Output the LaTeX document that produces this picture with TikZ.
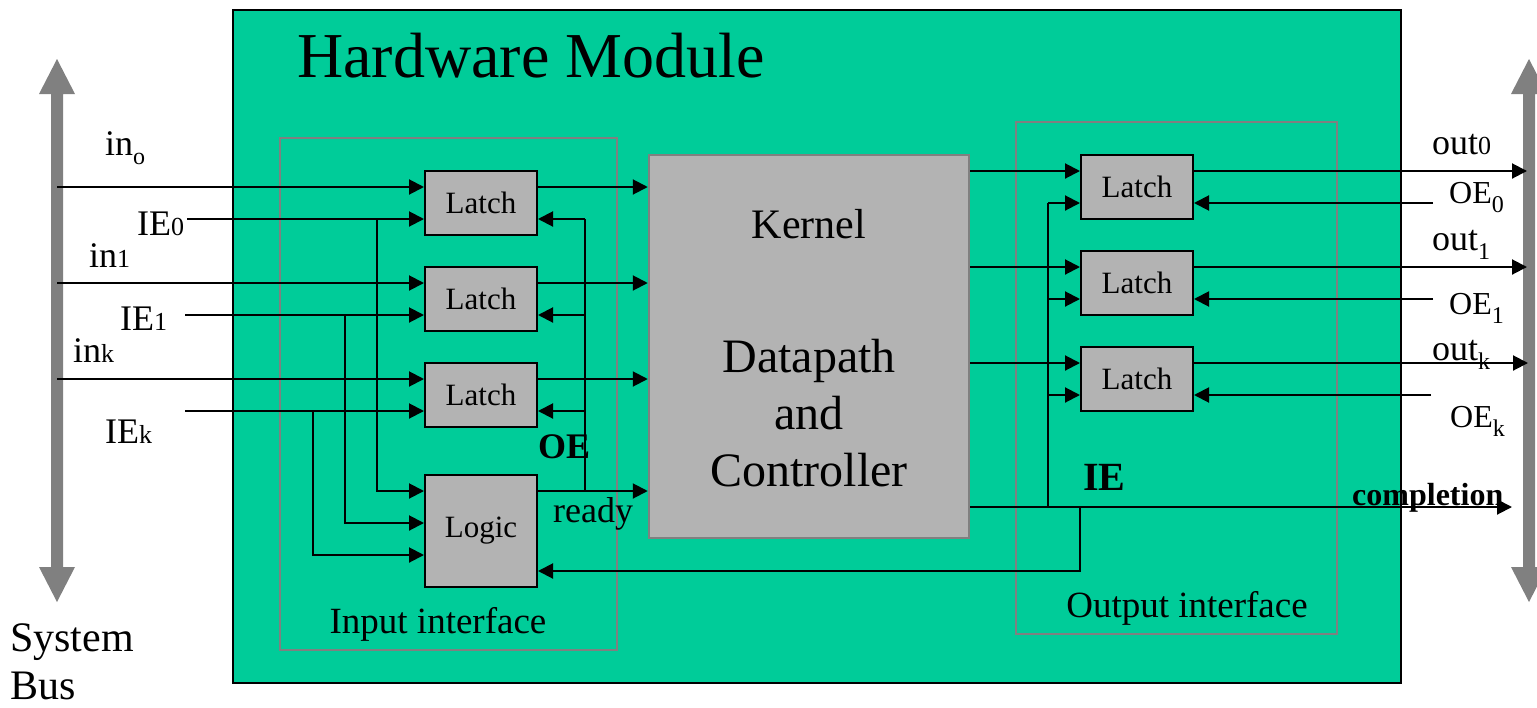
\documentclass[tikz,border=0pt]{standalone}
\usepackage{fontspec}
\setmainfont{Liberation Serif}
\usetikzlibrary{arrows.meta}

\definecolor{modgreen}{RGB}{0,204,153}
\definecolor{boxgray}{RGB}{179,179,179}
\definecolor{framegray}{RGB}{128,128,128}

\newcommand\setfs[1]{\fontsize{#1}{#1}\selectfont}
\newcommand\lowsub[1]{\raisebox{-9pt}{\setfs{24}#1}}
\newcommand\smalldig[1]{{\setfs{26}#1}}

\begin{document}
\begin{tikzpicture}[x=1pt,y=-1pt,
  wire/.style={line width=2pt},
  sig/.style={line width=2pt,-{Triangle[length=15pt,width=15pt]}},
  latchbox/.style={draw,fill=boxgray,line width=2pt,minimum width=112pt,
                   minimum height=64pt,inner sep=0pt,font=\setfs{31}},
  logicbox/.style={latchbox,minimum height=112pt},
  kernelbox/.style={draw=framegray,fill=boxgray,line width=2.5pt,
                    minimum width=320pt,minimum height=383pt,inner sep=0pt},
  frame/.style={draw=framegray,line width=2pt},
  lbl/.style={inner sep=0pt,anchor=base west,font=\setfs{36}},
  ctext/.style={inner sep=0pt,anchor=base,font=\setfs{48}},
  bus/.style={fill=framegray}]

\useasboundingbox (0,0) rectangle (1537,707);

% system bus arrows
\fill[bus] (51,94) -- (39,94) -- (57,59) -- (75,94) -- (63,94) -- (63,567)
  -- (75,567) -- (57,602) -- (39,567) -- (51,567) -- cycle;
\fill[bus] (1523,94) -- (1511,94) -- (1529,59) -- (1547,94) -- (1535,94) -- (1535,567)
  -- (1547,567) -- (1529,602) -- (1511,567) -- (1523,567) -- cycle;
\node[lbl,font=\setfs{42}] at (10,651) {System};
\node[lbl,font=\setfs{42}] at (10,699) {Bus};

% hardware module
\draw[fill=modgreen,line width=2pt] (233,10) rectangle (1401,683);
\node[lbl,font=\setfs{64}] at (297,77) {Hardware Module};

% interface frames
\draw[frame] (280,138) rectangle (617,650);
\draw[frame] (1016,122) rectangle (1337,634);
\node[ctext,font=\setfs{37}] at (438,633) {Input interface};
\node[ctext,font=\setfs{37}] at (1187,617) {Output interface};

% kernel
\node[kernelbox] (kn) at (809,346.5) {};
\node[ctext,font=\setfs{42}] at (809,238) {Kernel};
\node[ctext] at (809,372) {Datapath};
\node[ctext] at (809,429) {and};
\node[ctext] at (809,486) {Controller};

% input latches and logic
\node[latchbox] (il1) at (481,203) {Latch};
\node[latchbox] (il2) at (481,299) {Latch};
\node[latchbox] (il3) at (481,395) {Latch};
\node[logicbox] (lg) at (481,531) {Logic};

% output latches
\node[latchbox] (ol1) at (1137,187) {Latch};
\node[latchbox] (ol2) at (1137,283) {Latch};
\node[latchbox] (ol3) at (1137,379) {Latch};

% bus side ends of input signals
\coordinate (bin0) at (57,187);
\coordinate (bie0) at (187,219);
\coordinate (bin1) at (57,283);
\coordinate (bie1) at (185,315);
\coordinate (bink) at (57,379);
\coordinate (biek) at (185,411);

\draw[sig] (bin0) -- (il1.west |- bin0);
\draw[sig] (bie0) -- (il1.west |- bie0);
\draw[sig] (bin1) -- (il2.west |- bin1);
\draw[sig] (bie1) -- (il2.west |- bie1);
\draw[sig] (bink) -- (il3.west |- bink);
\draw[sig] (biek) -- (il3.west |- biek);

% input enables into logic
\coordinate (j0) at (377,219);
\coordinate (j1) at (345,315);
\coordinate (jk) at (313,411);
\draw[sig] (j0) |- ([yshift=40pt]lg.west);
\draw[sig] (j1) |- ([yshift=8pt]lg.west);
\draw[sig] (jk) |- ([yshift=-24pt]lg.west);

% latches into kernel
\draw[sig] (il1.east |- bin0) -- (kn.west |- bin0);
\draw[sig] (il2.east |- bin1) -- (kn.west |- bin1);
\draw[sig] (il3.east |- bink) -- (kn.west |- bink);

% ready and OE feedback
\coordinate (rdy) at (585,491);
\coordinate (oetop) at (585,219);
\draw[sig] ([yshift=40pt]lg.east) -- (kn.west |- rdy);
\draw[wire] (rdy) -- (oetop);
\draw[sig] (oetop) -- (il1.east |- oetop);
\draw[sig] (rdy |- bie1) -- (il2.east |- bie1);
\draw[sig] (rdy |- biek) -- (il3.east |- biek);

% kernel outputs
\coordinate (yo0) at (0,171);
\coordinate (yo1) at (0,267);
\coordinate (yok) at (0,363);
\draw[sig] (kn.east |- yo0) -- (ol1.west |- yo0);
\draw[sig] (kn.east |- yo1) -- (ol2.west |- yo1);
\draw[sig] (kn.east |- yok) -- (ol3.west |- yok);

% outputs to the bus
\coordinate (bout0) at (1527,171);
\coordinate (bout1) at (1527,267);
\coordinate (boutk) at (1528,363);
\draw[sig] (ol1.east |- bout0) -- (bout0);
\draw[sig] (ol2.east |- bout1) -- (bout1);
\draw[sig] (ol3.east |- boutk) -- (boutk);

% output enables from the bus
\coordinate (boe0) at (1433,203);
\coordinate (boe1) at (1433,299);
\coordinate (boek) at (1431,395);
\draw[sig] (boe0) -- (ol1.east |- boe0);
\draw[sig] (boe1) -- (ol2.east |- boe1);
\draw[sig] (boek) -- (ol3.east |- boek);

% completion and IE
\coordinate (cmp) at (1512,507);
\coordinate (iej) at (1048,507);
\coordinate (ietop) at (1048,203);
\coordinate (iel) at (1080,507);
\draw[sig] (kn.east |- cmp) -- (cmp);
\draw[wire] (iej) -- (ietop);
\draw[sig] (ietop) -- (ol1.west |- ietop);
\draw[sig] (iej |- boe1) -- (ol2.west |- boe1);
\draw[sig] (iej |- boek) -- (ol3.west |- boek);
\draw[sig] (iel) |- ([yshift=-40pt]lg.east);

% signal labels, input side
\node[lbl] at (105,155) {in\lowsub{o}};
\node[lbl] at (137,235) {IE\smalldig{0}};
\node[lbl] at (89,267) {in\smalldig{1}};
\node[lbl] at (120,330) {IE\smalldig{1}};
\node[lbl] at (73,362) {in\smalldig{k}};
\node[lbl] at (105,443) {IE\smalldig{k}};
\node[lbl,font=\setfs{36}\bfseries] at (538,458) {OE};
\node[lbl] at (553,522) {ready};

% signal labels, output side
\node[lbl,font=\setfs{40}\bfseries] at (1083,490) {IE};
\node[lbl,font=\setfs{32}\bfseries] at (1352,505) {completion};
\node[lbl] at (1432,154) {out\smalldig{0}};
\node[lbl,font=\setfs{32}] at (1449,203) {OE\lowsub{0}};
\node[lbl] at (1432,250) {out\lowsub{1}};
\node[lbl,font=\setfs{32}] at (1449,314) {OE\lowsub{1}};
\node[lbl] at (1432,360) {out\lowsub{k}};
\node[lbl,font=\setfs{32}] at (1450,427) {OE\lowsub{k}};

\end{tikzpicture}
\end{document}
